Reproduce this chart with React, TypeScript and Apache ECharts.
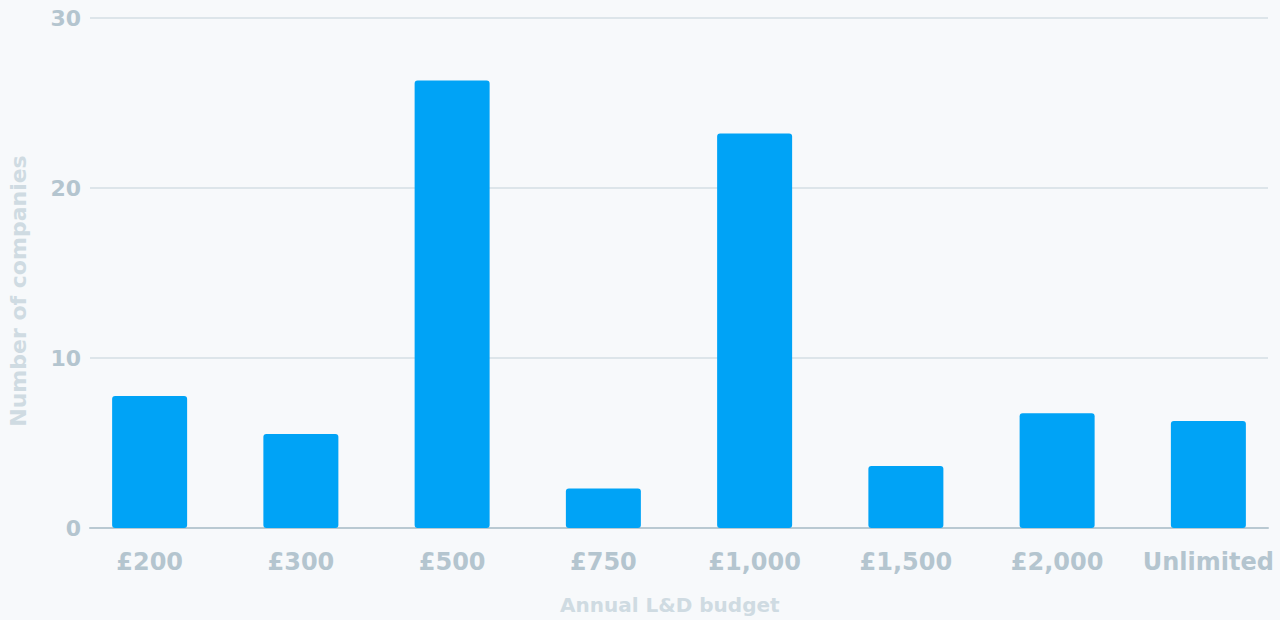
import React, { useEffect, useRef } from "react";
import * as echarts from "echarts";

const categories = ["£200", "£300", "£500", "£750", "£1,000", "£1,500", "£2,000", "Unlimited"];
const companies = [7.76, 5.53, 26.33, 2.33, 23.2, 3.65, 6.75, 6.3];
const yTicks = [0, 10, 20, 30];

const FONT = "'DejaVu Sans', sans-serif";
const LABEL = "#b4c5cf";
const NAME = "#cfdbe2";

export default function App() {
  const ref = useRef<HTMLDivElement>(null);
  useEffect(() => {
    document.body.style.margin = "0";
    const chart = echarts.init(ref.current!, undefined, { renderer: "svg" });
    chart.setOption({
      animation: false,
      backgroundColor: "#f7f9fb",
      grid: [
        { left: 90, width: 1178, top: 18, bottom: 92 },
        { left: 74, width: 1210, top: 18, bottom: 92 },
      ],
      xAxis: [
        {
          type: "category",
          gridIndex: 0,
          data: categories,
          axisLine: { show: true, lineStyle: { color: "#b9c9d2", width: 2 } },
          axisTick: { show: false },
          axisLabel: { show: false },
        },
        {
          type: "category",
          gridIndex: 1,
          data: categories,
          axisLine: { show: false },
          axisTick: { show: false },
          axisLabel: {
            interval: 0,
            color: LABEL,
            fontFamily: FONT,
            fontWeight: "bold",
            fontSize: 24,
            margin: 22,
          },
        },
      ],
      yAxis: [
        {
          type: "value",
          gridIndex: 0,
          min: yTicks[0],
          max: yTicks[yTicks.length - 1],
          interval: 10,
          axisLine: { show: false },
          axisTick: { show: false },
          axisLabel: {
            color: LABEL,
            fontFamily: FONT,
            fontWeight: "bold",
            fontSize: 22,
            margin: 9,
          },
          splitLine: { lineStyle: { color: "#dde5ea", width: 2 } },
        },
        {
          type: "value",
          gridIndex: 1,
          min: 0,
          max: 30,
          interval: 10,
          show: false,
          splitLine: { show: false },
        },
      ],
      series: [
        {
          type: "bar",
          xAxisIndex: 1,
          yAxisIndex: 1,
          data: companies,
          barWidth: 75,
          itemStyle: { color: "#00a3f6", borderRadius: 3 },
          z: 1,
        },
      ],
      graphic: [
        {
          type: "text",
          left: 560,
          top: 595,
          style: {
            text: "Annual L&D budget",
            fill: NAME,
            font: `bold 20px ${FONT}`,
          },
        },
        {
          type: "text",
          x: 7,
          y: 291,
          rotation: Math.PI / 2,
          style: {
            text: "Number of companies",
            fill: NAME,
            font: `bold 22px ${FONT}`,
            textAlign: "center",
            textVerticalAlign: "top",
          },
        },
      ],
    });
    return () => chart.dispose();
  }, []);
  return (
    <div style={{ width: 1280, height: 620, overflow: "hidden", position: "relative" }}>
      <div ref={ref} style={{ width: 1290, height: 620 }} />
    </div>
  );
}
